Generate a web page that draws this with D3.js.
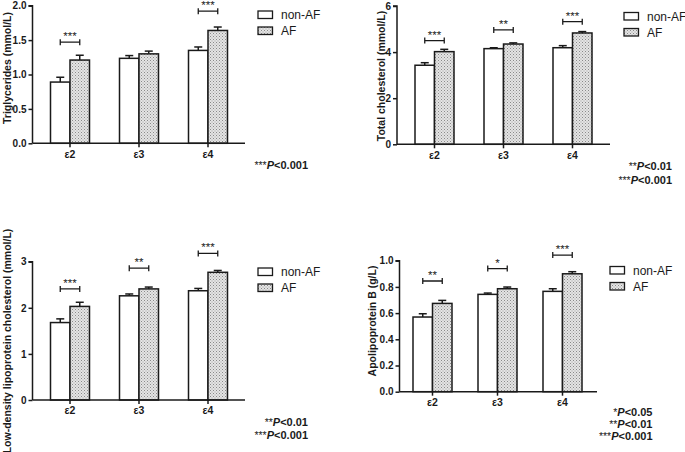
<!DOCTYPE html>
<html><head><meta charset="utf-8">
<script src="https://cdn.jsdelivr.net/npm/d3@7"></script>
<style>
body{margin:0;background:#fff;}
svg{display:block;font-family:"Liberation Sans",Arial,sans-serif;}
</style></head><body>
<svg id="c" width="685" height="452"></svg>
<script>
// ---- data ----
const categories = ["ε2", "ε3", "ε4"];
const seriesNames = ["non-AF", "AF"];

const tgNonAF = [0.89, 1.235, 1.35];
const tgNonAFErr = [0.07, 0.04, 0.05];
const tgAF = [1.21, 1.30, 1.64];
const tgAFErr = [0.07, 0.04, 0.05];
const tgStars = ["***", "", "***"];
const tgBracket = [1.47, null, 1.92];

const tcNonAF = [3.43, 4.15, 4.19];
const tcNonAFErr = [0.11, 0.04, 0.09];
const tcAF = [4.02, 4.35, 4.83];
const tcAFErr = [0.10, 0.05, 0.06];
const tcStars = ["***", "**", "***"];
const tcBracket = [4.50, 4.96, 5.32];

const ldlNonAF = [1.68, 2.26, 2.37];
const ldlNonAFErr = [0.08, 0.04, 0.05];
const ldlAF = [2.03, 2.41, 2.77];
const ldlAFErr = [0.09, 0.04, 0.04];
const ldlStars = ["***", "**", "***"];
const ldlBracket = [2.41, 2.86, 3.18];

const apoNonAF = [0.57, 0.743, 0.766];
const apoNonAFErr = [0.025, 0.01, 0.02];
const apoAF = [0.674, 0.786, 0.90];
const apoAFErr = [0.023, 0.013, 0.016];
const apoStars = ["**", "*", "***"];
const apoBracket = [0.845, 0.94, 1.043];

const tgTicks = [0, 0.5, 1.0, 1.5, 2.0];
const tcTicks = [0, 2, 4, 6];
const ldlTicks = [0, 1, 2, 3];
const apoTicks = [0, 0.2, 0.4, 0.6, 0.8, 1.0];

const tgNotes = ["***|P<0.001"];
const tcNotes = ["**|P<0.01", "***|P<0.001"];
const ldlNotes = ["**|P<0.01", "***|P<0.001"];
const apoNotes = ["*|P<0.05", "**|P<0.01", "***|P<0.001"];

// ---- layout ----
const panels = [
  {title:"Triglycerides (mmol/L)", non:tgNonAF, nonE:tgNonAFErr, af:tgAF, afE:tgAFErr, stars:tgStars, br:tgBracket,
   ticks:tgTicks, fmt:".1f", max:2.0, x0:32.5, xEnd:245, bandR:[3,210], yTop:5.7, yBot:143.3,
   titleX:11, titleY:68, legX:258, legY:11, notes:tgNotes, noteX:308, noteY:[169]},
  {title:"Total cholesterol (mmol/L)", non:tcNonAF, nonE:tcNonAFErr, af:tcAF, afE:tcAFErr, stars:tcStars, br:tcBracket,
   ticks:tcTicks, fmt:"d", max:6, x0:397, xEnd:610, bandR:[3,210], yTop:6, yBot:144.3,
   titleX:384.5, titleY:76, legX:624, legY:12.5, notes:tcNotes, noteX:672, noteY:[169.5,184]},
  {title:"Low-density lipoprotein cholesterol (mmol/L)", non:ldlNonAF, nonE:ldlNonAFErr, af:ldlAF, afE:ldlAFErr, stars:ldlStars, br:ldlBracket,
   ticks:ldlTicks, fmt:"d", max:3, x0:32.5, xEnd:245, bandR:[3,210], yTop:261.7, yBot:400,
   titleX:11, titleY:341, legX:258, legY:268, notes:ldlNotes, noteX:308, noteY:[425.5,439]},
  {title:"Apolipoprotein B (g/L)", non:apoNonAF, nonE:apoNonAFErr, af:apoAF, afE:apoAFErr, stars:apoStars, br:apoBracket,
   ticks:apoTicks, fmt:".1f", max:1.0, x0:399.5, xEnd:597, bandR:[0.5,195.5], yTop:260.7, yBot:391.7,
   titleX:376, titleY:321, legX:610, legY:266.5, notes:apoNotes, noteX:652.5, noteY:[416,427.5,439.5]}
];

const svg = d3.select("#c");
const defs = svg.append("defs");
const pat = defs.append("pattern").attr("id","dots").attr("patternUnits","userSpaceOnUse")
  .attr("width",3).attr("height",3);
pat.append("rect").attr("width",3).attr("height",3).attr("fill","#e4e4e4");
pat.append("rect").attr("x",0).attr("y",0).attr("width",1).attr("height",1).attr("fill","#8a8a8a");
pat.append("rect").attr("x",1.5).attr("y",1.5).attr("width",1).attr("height",1).attr("fill","#a0a0a0");

const ink = "#1a1a1a";
const BW = 19.5;

panels.forEach(p => {
  const g = svg.append("g");
  const y = d3.scaleLinear().domain([0, p.max]).range([p.yBot, p.yTop]);
  const x = d3.scaleBand().domain(categories).range([p.x0 + p.bandR[0], p.x0 + p.bandR[1]]);
  const xs = d3.scaleBand().domain(seriesNames).range([-BW, BW]);
  const cx = c => x(c) + x.bandwidth()/2;

  const rows = [];
  categories.forEach((c,i) => {
    rows.push({c, s:"non-AF", v:p.non[i], e:p.nonE[i]});
    rows.push({c, s:"AF", v:p.af[i], e:p.afE[i]});
  });

  // error bars
  rows.forEach(r => {
    const bx = cx(r.c) + xs(r.s) + xs.bandwidth()/2;
    g.append("line").attr("x1",bx).attr("x2",bx).attr("y1",y(r.v)).attr("y2",y(r.v+r.e))
      .attr("stroke",ink).attr("stroke-width",1.5);
    g.append("line").attr("x1",bx-4).attr("x2",bx+4).attr("y1",y(r.v+r.e)).attr("y2",y(r.v+r.e))
      .attr("stroke",ink).attr("stroke-width",1.5);
  });
  // bars
  g.selectAll("rect.bar").data(rows).join("rect").attr("class","bar")
    .attr("x", r => cx(r.c) + xs(r.s))
    .attr("width", xs.bandwidth())
    .attr("y", r => y(r.v))
    .attr("height", r => y(0) - y(r.v))
    .attr("fill", r => r.s === "AF" ? "url(#dots)" : "#fff")
    .attr("stroke", ink).attr("stroke-width",1.5);

  // brackets
  categories.forEach((c,i) => {
    if (p.br[i] == null) return;
    const xa = cx(c) - BW/2, xb = cx(c) + BW/2, yy = y(p.br[i]);
    g.append("path").attr("d",`M${xa},${yy-3}V${yy+3}M${xa},${yy}H${xb}M${xb},${yy-3}V${yy+3}`)
      .attr("stroke",ink).attr("stroke-width",1.3).attr("fill","none");
    g.append("text").attr("x",cx(c)).attr("y",yy-2).attr("text-anchor","middle")
      .attr("font-size",11.5).attr("fill",ink).text(p.stars[i]);
  });

  // y axis
  const ya = d3.axisLeft(y).tickValues(p.ticks).tickSize(4).tickPadding(2).tickFormat(d3.format(p.fmt));
  const yg = g.append("g").attr("transform",`translate(${p.x0},0)`).call(ya);
  yg.select(".domain").attr("stroke",ink).attr("stroke-width",1.5).attr("d",`M-4,${p.yTop}H0V${p.yBot}`);
  yg.selectAll(".tick line").attr("stroke",ink).attr("stroke-width",1.5);
  yg.selectAll("text").attr("font-size",10).attr("font-weight","bold").attr("fill",ink)
    .attr("font-family","'Liberation Sans',Arial,sans-serif");

  // x axis
  const xa = d3.axisBottom(x).tickSize(4).tickPadding(3);
  const xg = g.append("g").attr("transform",`translate(0,${p.yBot})`).call(xa);
  xg.select(".domain").attr("stroke",ink).attr("stroke-width",1.5).attr("d",`M${p.x0},0H${p.xEnd}`);
  xg.selectAll(".tick line").attr("stroke",ink).attr("stroke-width",1.5);
  xg.selectAll("text").attr("font-size",10.5).attr("font-weight","bold").attr("fill",ink)
    .attr("font-family","'Liberation Sans',Arial,sans-serif");

  // y title
  g.append("text").attr("transform",`translate(${p.titleX},${p.titleY}) rotate(-90)`)
    .attr("text-anchor","middle").attr("font-size",10.5).attr("font-weight","bold").attr("fill",ink)
    .text(p.title);

  // legend
  seriesNames.forEach((s,i) => {
    const ly = p.legY + i*16;
    g.append("rect").attr("x",p.legX).attr("y",ly).attr("width",14.5).attr("height",7.5)
      .attr("fill", s === "AF" ? "url(#dots)" : "#fff").attr("stroke",ink).attr("stroke-width",1.3);
    g.append("text").attr("x",p.legX+23).attr("y",ly+8).attr("font-size",12).attr("fill",ink).text(s);
  });

  // notes
  p.notes.forEach((n,i) => {
    const [st, rest] = n.split("|");
    const t = g.append("text").attr("x",p.noteX).attr("y",p.noteY[i]).attr("text-anchor","end")
      .attr("font-weight","bold").attr("fill",ink);
    t.append("tspan").attr("font-size",10.5).attr("font-weight","normal").text(st);
    t.append("tspan").attr("font-size",11).attr("font-style","italic").text(rest.slice(0,1));
    t.append("tspan").attr("font-size",11).text(rest.slice(1));
  });
});
</script>
</body></html>
